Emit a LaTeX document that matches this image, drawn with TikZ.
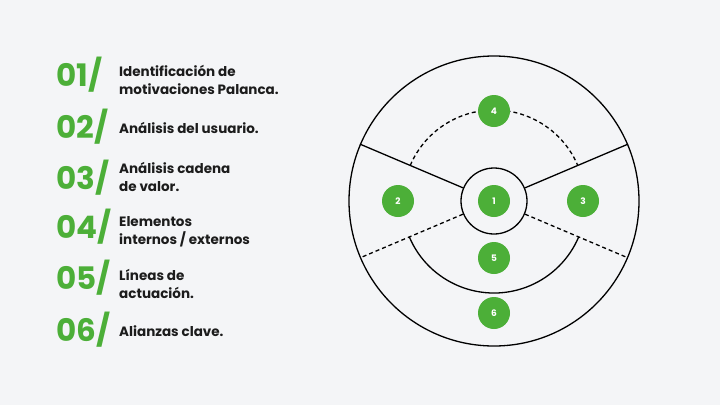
\documentclass[tikz,border=0pt]{standalone}
\usepackage{fontspec}
\setmainfont{Poppins}
\definecolor{bg}{HTML}{F4F5F7}
\definecolor{lgreen}{HTML}{4CAF38}
\definecolor{ink}{HTML}{1C1C1C}
\begin{document}
\begin{tikzpicture}[x=1pt,y=-1pt,
  numtxt/.style={anchor=west,text=lgreen,font=\fontsize{31}{32}\selectfont\bfseries,inner sep=0pt},
  labtxt/.style={anchor=west,text=ink,align=left,font=\fontsize{13.5}{17.5}\selectfont\bfseries,inner sep=0pt},
  ring/.style={draw=black,circle,line width=1.3pt,inner sep=0pt},
  dot/.style={circle,fill=lgreen,text=white,minimum size=32pt,inner sep=0pt,font=\fontsize{9}{9}\selectfont\bfseries},
  divider/.style={line width=1.3pt},
  dividerdash/.style={line width=1.3pt,dash pattern=on 4pt off 3pt}]
\fill[bg] (0,0) rectangle (720,405);
\useasboundingbox (0,0) rectangle (720,405);
% list
\node[numtxt] (n1) at (56,75) {01/};
\node[labtxt] (t1) at (119,80) {Identificación de\\motivaciones Palanca.};
\node[numtxt] (n2) at (56,127) {02/};
\node[labtxt] (t2) at (119,128) {Análisis del usuario.};
\node[numtxt] (n3) at (56,178) {03/};
\node[labtxt] (t3) at (119,177) {Análisis cadena\\de valor.};
\node[numtxt] (n4) at (56,227) {04/};
\node[labtxt] (t4) at (119,232) {Elementos\\internos / externos};
\node[numtxt] (n5) at (56,278) {05/};
\node[labtxt] (t5) at (119,284) {Líneas de\\actuación.};
\node[numtxt] (n6) at (56,330) {06/};
\node[labtxt] (t6) at (119,331) {Alianzas clave.};
% wheel
\coordinate (c) at (494,201);
\node[ring,minimum size=290pt] (outer) at (c) {};
\node[ring,minimum size=66pt] (inner) at (c) {};
\draw[divider] (inner.157) -- (outer.157);
\draw[divider] (inner.23) -- (outer.23);
\draw[dividerdash] (inner.203) -- (outer.203);
\draw[dividerdash] (inner.-23) -- (outer.-23);
\draw[dividerdash] ([shift={(-157:91)}]c) arc[start angle=-157,end angle=-23,radius=91];
\draw[divider] ([shift={(157:92)}]c) arc[start angle=157,end angle=23,radius=92];
\node[dot] (d1) at (c) {1};
\node[dot] (d2) at (398,201) {2};
\node[dot] (d3) at (583,201) {3};
\node[dot] (d4) at (494,111) {4};
\node[dot] (d5) at (494,258) {5};
\node[dot] (d6) at (494,313) {6};
\end{tikzpicture}
\end{document}
